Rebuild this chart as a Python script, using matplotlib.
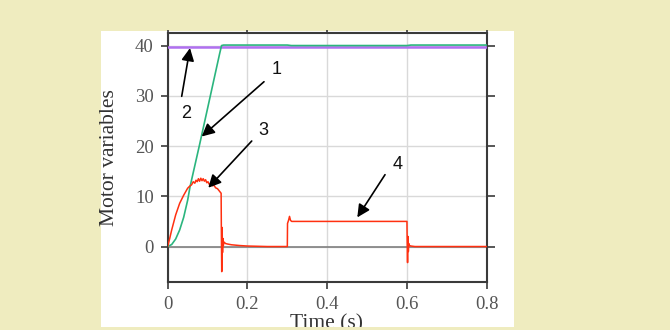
import numpy as np
import matplotlib
matplotlib.use("Agg")
import matplotlib.pyplot as plt
from matplotlib.patches import Rectangle

# reference speed (trace 2)
t_ref = [0.0, 0.8]
w_ref = [39.8, 39.8]

# rotor speed (trace 1)
t_speed = [0.0, 0.01, 0.02, 0.03, 0.04, 0.05, 0.056, 0.06, 0.07, 0.08, 0.09,
           0.10, 0.11, 0.12, 0.13, 0.135, 0.14, 0.3, 0.31, 0.6, 0.61, 0.8]
w_speed = [0.0, 0.4, 1.5, 3.3, 5.8, 9.2, 11.9, 13.3, 16.8, 20.3, 23.9,
           27.5, 31.1, 34.7, 38.3, 40.0, 40.1, 40.1, 40.0, 40.0, 40.1, 40.1]

# load torque (grey)
t_load = [0.0, 0.8]
load = [0.0, 0.0]

# electromagnetic torque (traces 3 and 4)
t_torque = [0.0, 0.005, 0.01, 0.02, 0.03, 0.04, 0.05, 0.055, 0.06, 0.064,
            0.068, 0.071, 0.074, 0.077, 0.08, 0.083, 0.086, 0.089, 0.092,
            0.095, 0.098, 0.101, 0.104, 0.108, 0.112, 0.116, 0.12, 0.125,
            0.13, 0.134, 0.1345, 0.1355, 0.1365, 0.1375, 0.1385, 0.1395,
            0.141, 0.145, 0.15, 0.16, 0.18, 0.2, 0.25, 0.3, 0.3005, 0.303,
            0.3055, 0.308, 0.311, 0.315, 0.45, 0.6, 0.6005, 0.6015, 0.6025,
            0.6035, 0.6045, 0.606, 0.61, 0.62, 0.8]
torque = [0.0, 1.6, 3.3, 6.3, 8.6, 10.2, 11.6, 12.0, 12.3, 12.9,
          12.6, 13.2, 12.9, 13.5, 13.0, 13.6, 13.1, 13.5, 13.0,
          13.3, 12.7, 12.9, 12.4, 12.6, 12.1, 12.2, 11.7, 11.5,
          11.0, 10.6, 4.0, -5.0, 3.8, -1.2, 1.6, 0.2,
          0.9, 0.6, 0.5, 0.35, 0.2, 0.1, 0.0, 0.0, 4.6, 5.2,
          6.0, 5.2, 5.0, 5.0, 5.0, 5.0, 1.2, -3.2, 2.0,
          -1.0, 0.6, 0.2, 0.1, 0.0, 0.0]

x_ticks = [0, 0.2, 0.4, 0.6, 0.8]
x_ticklabels = ["0", "0.2", "0.4", "0.6", "0.8"]
y_ticks = [0, 10, 20, 30, 40]

# (label, text position, arrow start, arrow tip) in data units
callouts = [
    ("1", (0.273, 35.2), (0.2415, 32.8), (0.0853, 21.9)),
    ("2", (0.046, 26.5), (0.0351, 29.9), (0.0559, 39.5)),
    ("3", (0.240, 23.0), (0.2107, 21.0), (0.1018, 11.7)),
    ("4", (0.576, 16.4), (0.545, 14.3), (0.4755, 5.8)),
]

fig = plt.figure(figsize=(6.7, 3.3), dpi=100)
fig.patch.set_facecolor("#efecbf")

# white card behind the plot
fig.patches.append(Rectangle((101 / 670, 3 / 330), 413 / 670, 296 / 330,
                             transform=fig.transFigure, facecolor="white",
                             edgecolor="none", zorder=-1))

ax = fig.add_axes([167.7 / 670, 48.3 / 330, 319 / 670, 248.7 / 330])
ax.set_facecolor("white")

ax.plot(t_load, load, color="#808080", lw=1.2, zorder=2)
ax.plot(t_ref, w_ref, color="#b070f0", lw=1.8, zorder=3)
ax.plot(t_speed, w_speed, color="#2bb57e", lw=1.2, zorder=4)
ax.plot(t_torque, torque, color="#ff3010", lw=1.1, zorder=5)

ax.set_xlim(0, 0.8)
ax.set_ylim(-7, 42.5)
ax.set_xticks(x_ticks)
ax.set_xticklabels(x_ticklabels)
ax.set_yticks(y_ticks)
ax.grid(True, color="#d9d9d9", lw=1.0, zorder=0)
ax.set_axisbelow(True)

for s in ax.spines.values():
    s.set_color("#3a3a3a")
    s.set_linewidth(1.5)

ax.tick_params(direction="out", length=5, width=1.2, color="#3a3a3a",
               labelcolor="#555555", labelsize=13.5, pad=5)
# short ticks on the opposite sides
ax.tick_params(which="major", right=True, top=True)
ax.xaxis.set_tick_params(which="major", top=True)
for tk in ax.xaxis.get_major_ticks():
    tk.tick2line.set_markersize(2)
for tk in ax.yaxis.get_major_ticks():
    tk.tick2line.set_marker(matplotlib.lines.TICKRIGHT)
    tk.tick2line.set_markersize(6)
for lbl in ax.get_xticklabels() + ax.get_yticklabels():
    lbl.set_family("Liberation Serif")

for label, txt, start, tip in callouts:
    ax.annotate("", xy=tip, xytext=start,
                arrowprops=dict(arrowstyle="-|>", color="black", lw=1.2,
                                mutation_scale=19, shrinkA=0, shrinkB=0),
                zorder=6)
    ax.text(txt[0], txt[1], label, ha="center", va="center", fontsize=13,
            family="Liberation Sans", color="#111111", zorder=6)

fig.text(110 / 670, 1 - 158 / 330, "Motor variables", rotation=90,
         ha="center", va="center", fontsize=15.5, family="Liberation Serif",
         color="#333333")
fig.text(327 / 670, 1 - 324 / 330, "Time (s)", ha="center", va="center",
         fontsize=15.5, family="Liberation Serif", color="#333333")

# strip of background colour clipping the bottom of the card
fig.patches.append(Rectangle((0, 0), 1, 3 / 330, transform=fig.transFigure,
                             facecolor="#efecbf", edgecolor="none", zorder=10))

fig.savefig("out.png", dpi=100, facecolor=fig.get_facecolor())
